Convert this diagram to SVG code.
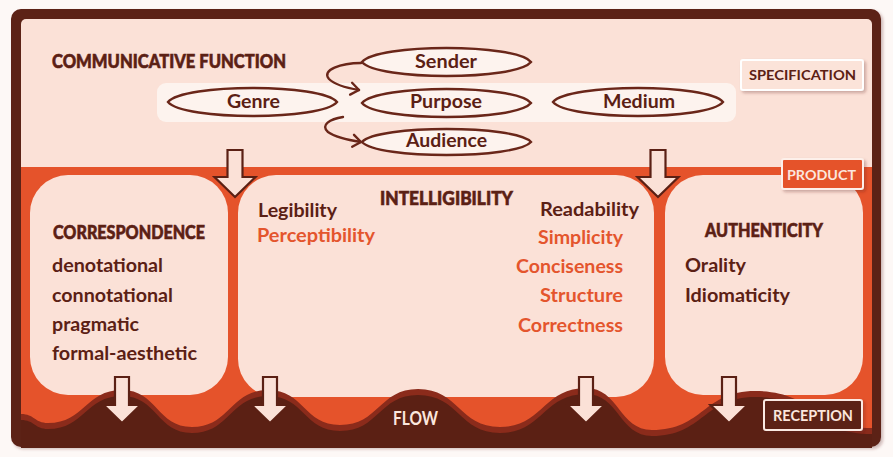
<svg xmlns="http://www.w3.org/2000/svg" xmlns:xlink="http://www.w3.org/1999/xlink" width="893" height="457" viewBox="0 0 893 457">
  <defs>
    <style>
      .t { font-family: Lato, "Noto Sans", "Liberation Sans", sans-serif; font-weight: 700; }
      .dark { fill: #5b2014; }
      .orange { fill: #e4552d; }
      .light { fill: #fbe6dd; }
      .head { font-size: 19px; font-weight: 900; stroke: #5b2014; stroke-width: 0.6; }
      .item { font-size: 19px; }
      .node { font-size: 18px; }
      .tag { font-size: 14px; }
      .oval { fill: #fdf3ee; stroke: #6a2619; stroke-width: 2.4; }
      .box { fill: #fbe1d7; }
      .arrow { fill: #fbe1d7; stroke: #5b2014; stroke-width: 2.2; stroke-linejoin: miter; }
      .curve { fill: none; stroke: #6a2619; stroke-width: 2.4; stroke-linecap: round; }
    </style>
    <filter id="shadow" x="-10%" y="-10%" width="130%" height="140%">
      <feDropShadow dx="2" dy="2" stdDeviation="1.6" flood-color="#5b2014" flood-opacity="0.3"/>
    </filter>
    <marker id="chev" viewBox="-10 -8 12 16" refX="0" refY="0" markerWidth="12" markerHeight="16" markerUnits="userSpaceOnUse" orient="auto">
      <path d="M-8,-6 L0,0 L-8,6" fill="none" stroke="#6a2619" stroke-width="2.4" stroke-linecap="round" stroke-linejoin="round"/>
    </marker>
    <path id="wave" d="M21,414 C34.5,414 34.5,423 48,423 C85,423 85,390 122,390 C157,390 157,427 192,427 C230,427 230,390 268,390 C304,390 304,425 340,425 C379,425 379,389 418,389 C459,389 459,427 500,427 C543,427 543,388 586,388 C619,388 619,430 652,430 C703.5,430 703.5,391 755,391 C813.5,391 813.5,428 872,428 L872,442 L21,442 Z"/>
    <path id="downTop" d="M-7.5,0 H7.5 V27 H20.5 L0,47 L-20.5,27 H-7.5 Z"/>
    <path id="downBottom" d="M-7,0 H7 V28 H18.5 L0,46 L-18.5,28 H-7 Z"/>
  </defs>

  <!-- page -->
  <rect x="0" y="0" width="893" height="457" fill="#fdf8f6"/>

  <!-- frame and bands -->
  <g id="frame">
    <rect x="11" y="9" width="870" height="438" rx="10" fill="#5b2014" filter="url(#shadow)"/>
    <rect x="21" y="19" width="851" height="420" rx="5" fill="#fbe1d7"/>
    <rect x="21" y="167" width="851" height="272" fill="#e5532b"/>
    <rect x="157" y="83" width="579" height="39" rx="9" fill="#fdf3ee"/>
  </g>

  <text class="t dark head" x="52" y="68" textLength="234" lengthAdjust="spacingAndGlyphs">COMMUNICATIVE FUNCTION</text>

  <!-- specification nodes -->
  <g id="genre">
    <path class="oval" d="M168,102 C183.2,83.3 321.8,83.3 337,102 C321.8,120.7 183.2,120.7 168,102 Z"/>
    <text class="t dark node" x="227" y="108" textLength="53" lengthAdjust="spacingAndGlyphs">Genre</text>
  </g>
  <g id="sender">
    <path class="oval" d="M362,62 C377.2,43.3 515.8,43.3 531,62 C515.8,80.7 377.2,80.7 362,62 Z"/>
    <text class="t dark node" x="415" y="68" textLength="62" lengthAdjust="spacingAndGlyphs">Sender</text>
  </g>
  <g id="purpose">
    <path class="oval" d="M362,103 C377.2,84.3 515.8,84.3 531,103 C515.8,121.7 377.2,121.7 362,103 Z"/>
    <text class="t dark node" x="410" y="108" textLength="72" lengthAdjust="spacingAndGlyphs">Purpose</text>
  </g>
  <g id="audience">
    <path class="oval" d="M362,142 C377.2,124.7 515.8,124.7 531,142 C515.8,159.3 377.2,159.3 362,142 Z"/>
    <text class="t dark node" x="406" y="147" textLength="81" lengthAdjust="spacingAndGlyphs">Audience</text>
  </g>
  <g id="medium">
    <path class="oval" d="M553,102 C568.3,83.3 707.7,83.3 723,102 C707.7,120.7 568.3,120.7 553,102 Z"/>
    <text class="t dark node" x="603" y="108" textLength="72" lengthAdjust="spacingAndGlyphs">Medium</text>
  </g>

  <!-- product boxes -->
  <g id="correspondence">
    <rect class="box" x="30" y="175" width="198" height="220" rx="38"/>
    <text class="t dark head" x="53" y="239" textLength="152" lengthAdjust="spacingAndGlyphs">CORRESPONDENCE</text>
    <text class="t dark item" x="52" y="272" textLength="111" lengthAdjust="spacingAndGlyphs">denotational</text>
    <text class="t dark item" x="52" y="302" textLength="121" lengthAdjust="spacingAndGlyphs">connotational</text>
    <text class="t dark item" x="52" y="331" textLength="87" lengthAdjust="spacingAndGlyphs">pragmatic</text>
    <text class="t dark item" x="52" y="360" textLength="145" lengthAdjust="spacingAndGlyphs">formal-aesthetic</text>
  </g>
  <g id="intelligibility">
    <rect class="box" x="238" y="175" width="416" height="222" rx="38"/>
    <text class="t dark head" x="380" y="205" textLength="133" lengthAdjust="spacingAndGlyphs">INTELLIGIBILITY</text>
    <text class="t dark item" x="258" y="217" textLength="79" lengthAdjust="spacingAndGlyphs">Legibility</text>
    <text class="t orange item" x="257" y="242" textLength="118" lengthAdjust="spacingAndGlyphs">Perceptibility</text>
    <text class="t dark item" x="540" y="216" textLength="99" lengthAdjust="spacingAndGlyphs">Readability</text>
    <text class="t orange item" x="538" y="244" textLength="85" lengthAdjust="spacingAndGlyphs">Simplicity</text>
    <text class="t orange item" x="516" y="273" textLength="107" lengthAdjust="spacingAndGlyphs">Conciseness</text>
    <text class="t orange item" x="540" y="302" textLength="83" lengthAdjust="spacingAndGlyphs">Structure</text>
    <text class="t orange item" x="518" y="332" textLength="105" lengthAdjust="spacingAndGlyphs">Correctness</text>
  </g>
  <g id="authenticity">
    <rect class="box" x="665" y="175" width="198" height="220" rx="38"/>
    <text class="t dark head" x="705" y="237" textLength="118" lengthAdjust="spacingAndGlyphs">AUTHENTICITY</text>
    <text class="t dark item" x="685" y="272" textLength="61" lengthAdjust="spacingAndGlyphs">Orality</text>
    <text class="t dark item" x="685" y="302" textLength="105" lengthAdjust="spacingAndGlyphs">Idiomaticity</text>
  </g>

  <!-- reception flow -->
  <g id="flow">
    <use href="#wave" fill="#8b2b1b"/>
    <use href="#wave" fill="#5b2014" transform="translate(0,6)"/>
    <text class="t light" x="393" y="425" font-size="18" textLength="45" lengthAdjust="spacingAndGlyphs">FLOW</text>
  </g>

  <!-- connectors -->
  <g id="connectors">
    <path class="curve" d="M361,63 C341,63 321,70 329,79 C335,85 347,88 359,90" marker-end="url(#chev)"/>
    <path class="curve" d="M343,117 C330,119 320,125 328,132 C335,137 348,140 361,142" marker-end="url(#chev)"/>
    <use href="#downTop" class="arrow" x="235" y="150"/>
    <use href="#downTop" class="arrow" x="658" y="150"/>
    <use href="#downBottom" class="arrow" x="122" y="377"/>
    <use href="#downBottom" class="arrow" x="270" y="377"/>
    <use href="#downBottom" class="arrow" x="586" y="377"/>
    <use href="#downBottom" class="arrow" x="729" y="377"/>
  </g>

  <!-- stage tags -->
  <g id="specification">
    <rect x="741" y="60" width="122" height="30" rx="2" fill="#fbe3d9" stroke="#ffffff" stroke-width="2" filter="url(#shadow)"/>
    <text class="t dark tag" x="749" y="80" textLength="107" lengthAdjust="spacingAndGlyphs">SPECIFICATION</text>
  </g>
  <g id="product">
    <rect x="782" y="159" width="81" height="30" rx="2" fill="#e5532b" stroke="#fdf0ea" stroke-width="2" filter="url(#shadow)"/>
    <text class="t light tag" x="787" y="180" textLength="69" lengthAdjust="spacingAndGlyphs">PRODUCT</text>
  </g>
  <g id="reception">
    <rect x="764" y="400" width="98" height="30" rx="2" fill="#5b2014" stroke="#fbeae3" stroke-width="2" filter="url(#shadow)"/>
    <text class="t light" x="773" y="421" font-size="15" textLength="80" lengthAdjust="spacingAndGlyphs">RECEPTION</text>
  </g>
</svg>
